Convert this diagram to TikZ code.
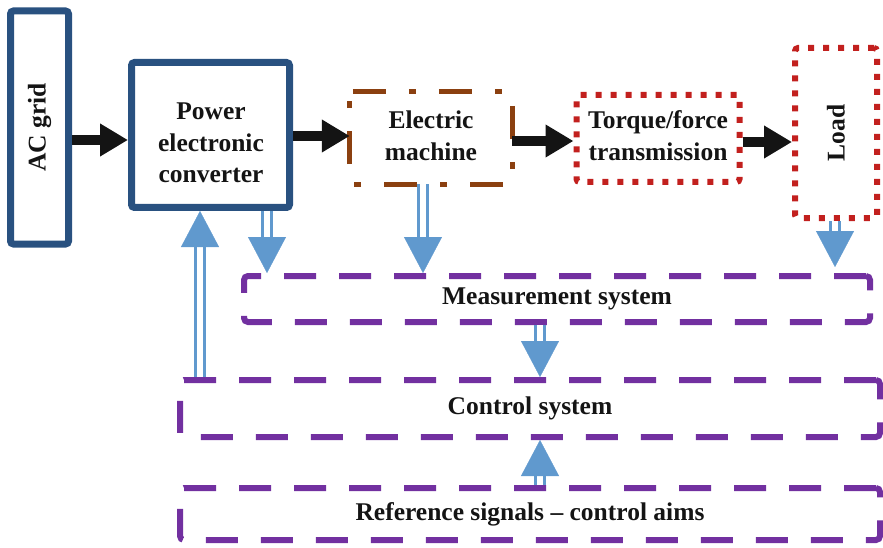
\documentclass[tikz,border=0pt]{standalone}
\usepackage{fontspec}
\setmainfont{Liberation Serif}
\usetikzlibrary{arrows.meta}
\definecolor{navy}{RGB}{41,81,128}
\definecolor{brownm}{RGB}{139,64,16}
\definecolor{redd}{RGB}{194,32,30}
\definecolor{purp}{RGB}{114,48,160}
\definecolor{bl}{RGB}{96,153,206}
\definecolor{blk}{RGB}{20,20,20}
\tikzset{
  lbl/.style={font=\fontsize{25.5}{31.5}\selectfont\bfseries, text=blk, align=center, inner sep=0pt},
  navybox/.style={draw=navy, line width=7pt, rounded corners=3pt, inner sep=0pt},
  machbox/.style={draw=brownm, line width=5pt, rounded corners=3pt,
    dash pattern=on 33pt off 23pt on 7pt off 23pt},
  redbox/.style={draw=redd, line width=6pt, rounded corners=3pt, inner sep=0pt,
    dash pattern=on 6pt off 9pt},
  purpbox/.style={draw=purp, line width=6pt, rounded corners=4pt, inner sep=0pt,
    dash pattern=on 32pt off 23pt},
  blackarrow/.style={draw=blk, line width=10pt, -{Triangle[width=31pt,length=28pt]}},
  bluearrow/.style={draw=white, line width=0.3pt, -{Triangle[width=38pt,length=36pt,color=bl]},
    preaction={draw=bl, line width=3.2pt, double=white, double distance=5.5pt, shorten >=30pt, -}},
}
\begin{document}
\begin{tikzpicture}[x=1pt,y=-1pt]
\useasboundingbox (0,0) rectangle (883,548);
% boxes
\node[navybox, minimum width=58pt, minimum height=233pt] (ac) at (39.5,127.5) {};
\node[lbl, rotate=90] (actext) at (ac.center) {AC grid};
\node[navybox, minimum width=158pt, minimum height=145pt] (conv) at (210.5,135) {};
\node[lbl] (convtext) at (211,143) {Power\\electronic\\converter};
\node[inner sep=0pt, minimum width=162pt, minimum height=92pt] (mach) at (431,138) {};
\draw[machbox] (mach.north west) -- (mach.north east) -- (mach.south east) -- (mach.south west) -- cycle;
\node[lbl] (machtext) at ([yshift=2pt]mach.center) {Electric\\machine};
\node[redbox, minimum width=163pt, minimum height=87pt] (torq) at (658,138.5) {};
\node[lbl] (torqtext) at ([yshift=3pt]torq.center) {Torque/force\\transmission};
\node[redbox, minimum width=82pt, minimum height=170pt] (load) at (836,133) {};
\node[lbl, rotate=90] (loadtext) at (load.center) {Load};
\node[purpbox, minimum width=626pt, minimum height=46pt] (meas) at (557,299) {};
\node[lbl] (meastext) at (meas.center) {Measurement system};
\node[purpbox, minimum width=700pt, minimum height=57pt] (ctrl) at (530,408.5) {};
\node[lbl] (ctrltext) at (ctrl.center) {Control system};
\node[purpbox, minimum width=700pt, minimum height=52pt] (ref) at (530,514) {};
\node[lbl] (reftext) at (ref.center) {Reference signals -- control aims};
% black arrows
\draw[blackarrow] (ac.east |- 0,140) -- (conv.west |- 0,140);
\draw[blackarrow] (conv.east |- 0,136) -- (mach.west |- 0,136);
\draw[blackarrow] (mach.east |- 0,141) -- (torq.west |- 0,141);
\draw[blackarrow] (torq.east |- 0,142) -- (load.west |- 0,142);
% blue arrows
\draw[bluearrow] (conv.south -| 267,0) -- (meas.north -| 267,0);
\draw[bluearrow] (mach.south -| 423,0) -- (meas.north -| 423,0);
\draw[bluearrow] (load.south -| 835,0) -- ([yshift=6pt]meas.north -| 835,0);
\draw[bluearrow] (ctrl.north -| 200,0) -- (conv.south -| 200,0);
\draw[bluearrow] (meas.south -| 540,0) -- (ctrl.north -| 540,0);
\draw[bluearrow] (ref.north -| 540,0) -- (ctrl.south -| 540,0);
\end{tikzpicture}
\end{document}
